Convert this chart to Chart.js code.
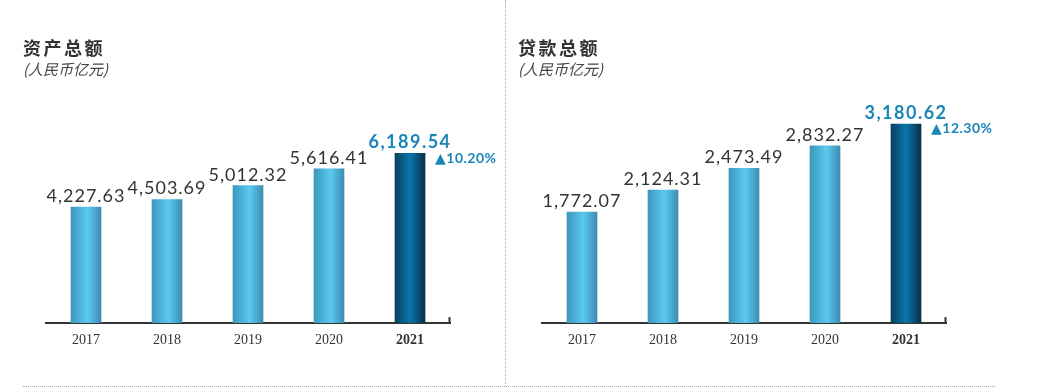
<!DOCTYPE html>
<html>
<head>
<meta charset="utf-8">
<script src="https://cdn.jsdelivr.net/npm/chart.js@4/dist/chart.umd.min.js"></script>
<style>
  body { margin: 0; background: #fff; }
  #wrap { position: relative; width: 1039px; height: 390px; overflow: hidden; }
  canvas { position: absolute; top: 0; }
  .title { position: absolute; font-family: "Noto Sans CJK SC", sans-serif; font-weight: bold; font-size: 18px; letter-spacing: 2.5px; color: #333; }
  .unit { position: absolute; font-family: "Noto Sans CJK SC", sans-serif; font-style: italic; font-size: 15px; color: #444; }
  .vline { position: absolute; left: 505px; top: 0; height: 386px; border-left: 1px dotted #aaa; }
  .hline { position: absolute; left: 23px; top: 386px; width: 972px; border-top: 1px dotted #aaa; }
</style>
</head>
<body>
<div id="wrap">
  <canvas id="assetChart" width="505" height="390" style="left:0"></canvas>
  <canvas id="loanChart" width="534" height="390" style="left:505px"></canvas>
  <div class="title" style="left:23px; top:34px">资产总额</div>
  <div class="unit" style="left:23px; top:58px">(人民币亿元)</div>
  <div class="title" style="left:518px; top:34px">贷款总额</div>
  <div class="unit" style="left:518px; top:58px">(人民币亿元)</div>
  <div class="vline"></div>
  <div class="hline"></div>
</div>
<script>
var years = ["2017", "2018", "2019", "2020", "2021"];
var assetValues = [4227.63, 4503.69, 5012.32, 5616.41, 6189.54];
var loanValues = [1772.07, 2124.31, 2473.49, 2832.27, 3180.62];
var assetGrowth = "10.20%";
var loanGrowth = "12.30%";

var blue = "#1a86b8";

// horizontal shading on each bar, darker one for the latest year
function barFill(c) {
  var chart = c.chart;
  if (!chart.chartArea || !chart.scales.x) return "#4db8e0";
  var cx = chart.scales.x.getPixelForValue(c.dataIndex);
  var g = chart.ctx.createLinearGradient(cx - 15, 0, cx + 15, 0);
  if (c.dataIndex === years.length - 1) {
    g.addColorStop(0, "#0a3f5f");
    g.addColorStop(0.5, "#0878aa");
    g.addColorStop(1, "#072f48");
  } else {
    g.addColorStop(0, "#3b97bd");
    g.addColorStop(0.55, "#5bc9f0");
    g.addColorStop(1, "#3c8db0");
  }
  return g;
}

var labelPlugin = {
  id: "labels",
  afterDatasetsDraw: function(chart) {
    var ctx = chart.ctx;
    var meta = chart.getDatasetMeta(0);
    var vals = chart.data.datasets[0].data;
    var last = vals.length - 1;
    ctx.save();
    ctx.textAlign = "center";
    ctx.textBaseline = "alphabetic";
    meta.data.forEach(function(bar, i) {
      var txt = vals[i].toLocaleString("en-US", {minimumFractionDigits: 2});
      if (i === last) {
        ctx.font = "bold 18px Lato, 'DejaVu Sans'";
        ctx.letterSpacing = "1.5px";
        ctx.fillStyle = blue;
      } else {
        ctx.font = "18px Lato, 'DejaVu Sans'";
        ctx.letterSpacing = "1px";
        ctx.fillStyle = "#333";
      }
      ctx.fillText(txt, bar.x, bar.y - 5);
    });
    var lb = meta.data[last];
    ctx.textAlign = "left";
    ctx.textBaseline = "middle";
    ctx.font = "bold 14px Lato, 'DejaVu Sans'";
    ctx.letterSpacing = "0.5px";
    ctx.fillStyle = blue;
    ctx.fillText("\u25B2" + chart.options.plugins.labels.growth, lb.x + 25, lb.y + 5);
    // small end tick on the axis
    var a = chart.chartArea;
    ctx.strokeStyle = "#333";
    ctx.lineWidth = 2;
    ctx.beginPath();
    ctx.moveTo(a.right - 1, a.bottom);
    ctx.lineTo(a.right - 1, a.bottom - 6);
    ctx.stroke();
    ctx.restore();
  }
};

function makeChart(id, values, max, pad, growth) {
  return new Chart(id, {
    type: "bar",
    data: {
      labels: years,
      datasets: [{
        data: values,
        backgroundColor: barFill,
        barThickness: 30
      }]
    },
    options: {
      responsive: false,
      animation: false,
      layout: {padding: pad},
      plugins: {
        legend: {display: false},
        tooltip: {enabled: false},
        labels: {growth: growth}
      },
      scales: {
        y: {display: false, min: 0, max: max},
        x: {
          grid: {display: false, drawTicks: false},
          border: {color: "#333", width: 2},
          ticks: {
            color: "#333",
            padding: 9,
            font: function(c) {
              return {family: "'Liberation Serif', serif", size: 14, weight: c.index === years.length - 1 ? "bold" : "normal"};
            }
          },
          afterFit: function(s) { s.height = 67; }
        }
      }
    },
    plugins: [labelPlugin]
  });
}

makeChart("assetChart", assetValues, 7000, {left: 45.5, right: 54.5, top: 131, bottom: 0}, assetGrowth);
makeChart("loanChart", loanValues, 3500, {left: 36.5, right: 92.5, top: 104, bottom: 0}, loanGrowth);
</script>
</body>
</html>
